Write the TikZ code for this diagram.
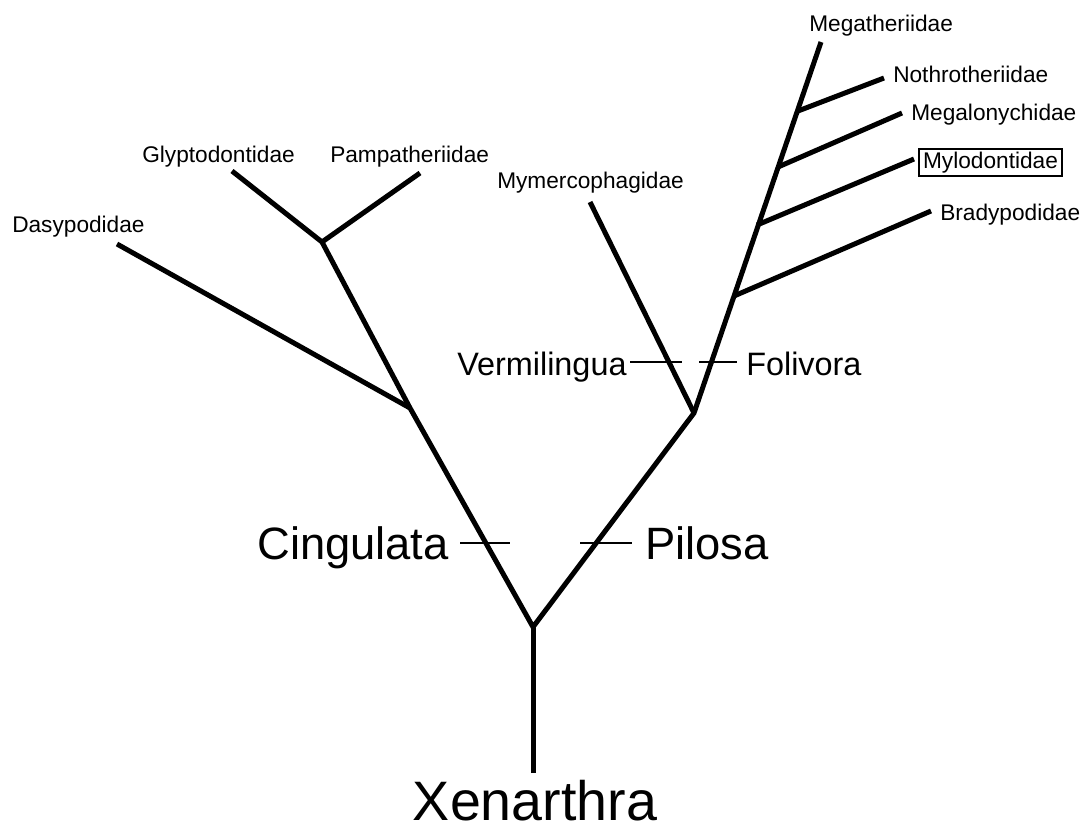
\documentclass[tikz,border=0pt]{standalone}
\usepackage{fontspec}
\setmainfont{Liberation Sans}
\begin{document}
\begin{tikzpicture}[x=0.75pt,y=-0.75pt,
  lbl/.style={font=\fontsize{17}{20}\selectfont, inner sep=0pt, anchor=base west},
  midlbl/.style={font=\fontsize{24.3}{28}\selectfont, inner sep=0pt, anchor=base west},
  biglbl/.style={font=\fontsize{34}{40}\selectfont, inner sep=0pt, anchor=base west},
  hugelbl/.style={font=\fontsize{41.7}{48}\selectfont, inner sep=0pt, text depth=0pt, anchor=base},
  branch/.style={line width=3.75pt, line join=miter},
  tickline/.style={line width=1.4pt}]
\useasboundingbox (0,0) rectangle (1084,825);
% junctions and tips
\coordinate (base) at (533,773);
\coordinate (r) at (533,627);
\coordinate (c1) at (410,408);
\coordinate (c2) at (322,242);
\coordinate (dasy) at (117,244);
\coordinate (glyp) at (232,171);
\coordinate (pamp) at (420,173);
\coordinate (p1) at (694,413);
\coordinate (verm) at (590,202);
\coordinate (megat) at (821,42);
\coordinate (s1) at (734,296);
\coordinate (brady) at (931,211);
\coordinate (s2) at (757,225);
\coordinate (mylo) at (914,159);
\coordinate (s3) at (778,167);
\coordinate (megal) at (902,113);
\coordinate (s4) at (798,111);
\coordinate (nothro) at (884,78);
% tick ends
\coordinate (ct1) at (460,543); \coordinate (ct2) at (510,543);
\coordinate (pt1) at (580,543); \coordinate (pt2) at (632,543);
\coordinate (vt1) at (630,362); \coordinate (vt2) at (682,362);
\coordinate (ft1) at (699,362); \coordinate (ft2) at (737,362);
% branches
\draw[branch] (base) -- (r);
\draw[branch] (glyp) -- (c2) -- (c1) -- (r) -- (p1) -- (megat);
\draw[branch] (dasy) -- (c1);
\draw[branch] (c2) -- (pamp);
\draw[branch] (verm) -- (p1);
\draw[branch] (s1) -- (brady);
\draw[branch] (s2) -- (mylo);
\draw[branch] (s3) -- (megal);
\draw[branch] (s4) -- (nothro);
% ticks
\draw[tickline] (ct1) -- (ct2);
\draw[tickline] (pt1) -- (pt2);
\draw[tickline] (vt1) -- (vt2);
\draw[tickline] (ft1) -- (ft2);
% labels
\node[lbl] (nMegat) at (809,31) {Megatheriidae};
\node[lbl] (nNothro) at (893,82) {Nothrotheriidae};
\node[lbl] (nMegal) at (911,120) {Megalonychidae};
\node[lbl, draw, line width=1.1pt, anchor=center, minimum width=107.25pt, minimum height=20.25pt] (nMylo) at (990.5,162.5) {Mylodontidae};
\node[lbl] (nBrady) at (940,220) {Bradypodidae};
\node[lbl] (nDasy) at (12,232) {Dasypodidae};
\node[lbl] (nGlyp) at (142,162) {Glyptodontidae};
\node[lbl] (nPamp) at (330,162) {Pampatheriidae};
\node[lbl] (nMyme) at (497,188) {Mymercophagidae};
\node[midlbl] (nVerm) at (457,375) {Vermilingua};
\node[midlbl] (nFol) at (746,375) {Folivora};
\node[biglbl] (nCing) at (257,559) {Cingulata};
\node[biglbl] (nPil) at (645,559) {Pilosa};
\node[hugelbl] (nXen) at (535,820) {Xenarthra};
\end{tikzpicture}
\end{document}
